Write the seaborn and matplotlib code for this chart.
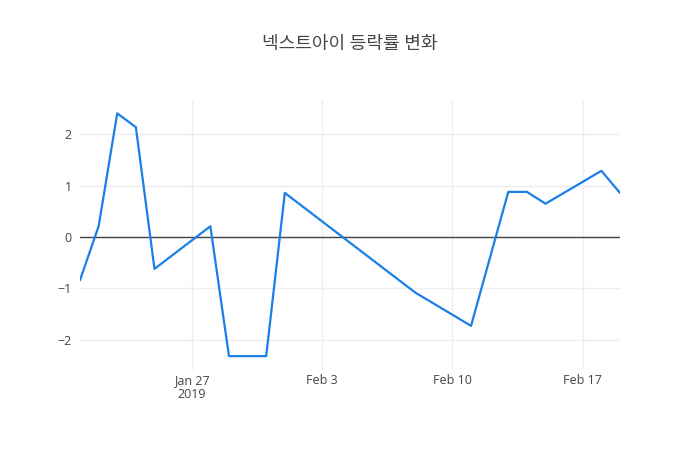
import pandas as pd
import matplotlib
matplotlib.use("Agg")
from matplotlib import pyplot as plt
import seaborn as sns

# Daily change rate (%)
dates = ['2019-01-21', '2019-01-22', '2019-01-23', '2019-01-24', '2019-01-25',
         '2019-01-28', '2019-01-29', '2019-01-30', '2019-01-31', '2019-02-01',
         '2019-02-08', '2019-02-11', '2019-02-13', '2019-02-14', '2019-02-15',
         '2019-02-18', '2019-02-19']
rates = [-0.84, 0.21, 2.41, 2.14, -0.62,
         0.21, -2.32, -2.32, -2.32, 0.86,
         -1.08, -1.73, 0.88, 0.88, 0.65,
         1.29, 0.86]
tick_dates = ['2019-01-27', '2019-02-03', '2019-02-10', '2019-02-17']
tick_labels = ['Jan 27\n2019', 'Feb 3', 'Feb 10', 'Feb 17']
y_ticks = [-2, -1, 0, 1, 2]

df = pd.DataFrame({'date': pd.to_datetime(dates), 'rate': rates})

sns.set_theme(style='white')
plt.rcParams['font.family'] = ['Open Sans', 'Noto Sans CJK KR', 'DejaVu Sans']

fig = plt.figure(figsize=(7, 4.5), dpi=100)
ax = fig.add_axes([80 / 700, 80 / 450, 540 / 700, 270 / 450])

sns.lineplot(data=df, x='date', y='rate', ax=ax, color='#1a7fe8', linewidth=1.6)

# zero line
ax.axhline(0, color='#444444', linewidth=1, zorder=1)

ax.set_xlim(df['date'].min(), df['date'].max())
ax.set_ylim(-2.59, 2.67)

ax.set_xticks(pd.to_datetime(tick_dates))
ax.set_xticklabels(tick_labels, linespacing=1.05)
ax.set_yticks(y_ticks)
ax.set_yticklabels([str(v).replace('-', '\u2212') for v in y_ticks])

ax.grid(True, color='#eeeeee', linewidth=1)
ax.set_axisbelow(True)
for s in ax.spines.values():
    s.set_visible(False)
ax.tick_params(axis='both', length=0, labelsize=9, colors='#444444')
ax.tick_params(axis='x', pad=3)
ax.tick_params(axis='y', pad=6)
ax.set_xlabel('')
ax.set_ylabel('')

fig.text(350 / 700, 1 - 44 / 450, '넥스트아이 등락률 변화', ha='center', va='center',
         fontsize=13, color='#444444')

fig.savefig('out.png', dpi=100, facecolor='white')
